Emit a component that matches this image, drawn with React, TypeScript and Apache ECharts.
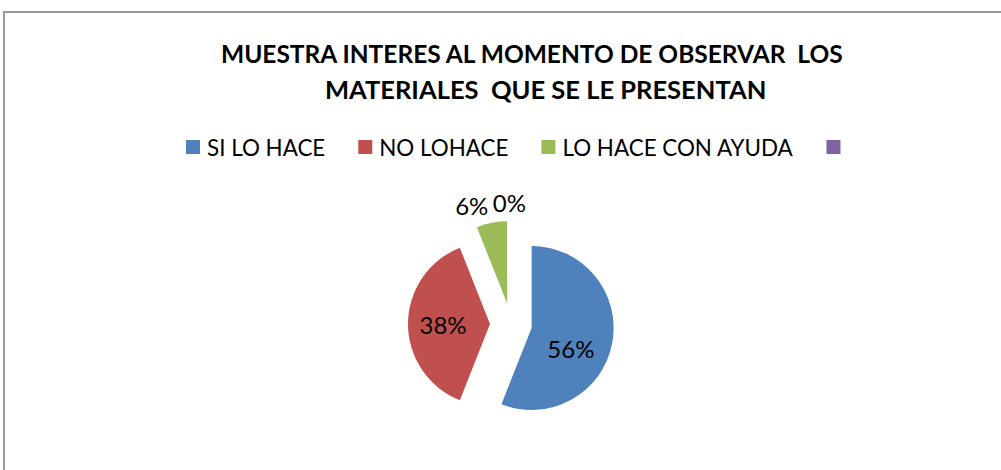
import React, { useEffect, useRef } from "react";
import * as echarts from "echarts";

const titleLines = ["MUESTRA INTERES AL MOMENTO DE OBSERVAR  LOS", "MATERIALES  QUE SE LE PRESENTAN"];
const categories = ["SI LO HACE", "NO LOHACE", "LO HACE CON AYUDA", " "];
const values = [56, 38, 6, 0];
const colors = ["#4F81BD", "#C0504D", "#9BBB59", "#8064A2"];
const labelPlacement = ["inside", "inside", "outside", "outside"];
const labelNudge: [number, number][] = [[-4, 12], [-3, 0], [5, 0], [20, -1]];

const FONT = "Lato, 'Open Sans', sans-serif";

export default function App() {
  const ref = useRef<HTMLDivElement>(null);
  useEffect(() => {
    if (!ref.current) return;
    const chart = echarts.init(ref.current, null, { renderer: "svg" });
    chart.setOption({
      animation: false,
      backgroundColor: "#ffffff",
      title: [
        {
          text: titleLines[0],
          left: 221,
          top: 41,
          padding: 0,
          textStyle: { fontFamily: FONT, fontSize: 24.5, fontWeight: "bold", color: "#000" },
        },
        {
          text: titleLines[1],
          left: 325,
          top: 76,
          padding: 0,
          textStyle: { fontFamily: FONT, fontSize: 25.5, fontWeight: "bold", color: "#000" },
        },
      ],
      legend: {
        left: 186,
        top: 136,
        padding: 0,
        icon: "rect",
        itemWidth: 14,
        itemHeight: 14,
        itemGap: 33,
        selectedMode: false,
        data: categories,
        textStyle: { fontFamily: FONT, fontSize: 22.4, color: "#000", padding: [0, 0, 0, 2] },
      },
      graphic: [
        {
          type: "rect",
          silent: true,
          shape: { x: 4, y: 12, width: 1100, height: 600 },
          style: { fill: "none", stroke: "#9a9a9a", lineWidth: 2 },
        },
      ],
      series: [
        {
          type: "pie",
          center: [511, 324],
          radius: 82,
          startAngle: 90,
          clockwise: true,
          selectedMode: "multiple",
          selectedOffset: 21,
          avoidLabelOverlap: false,
          silent: true,
          emphasis: { disabled: true },
          label: {
            formatter: "{c}%",
            fontFamily: FONT,
            fontSize: 24,
            color: "#000",
          },
          labelLine: { show: false, length: 18, length2: 0 },
          labelLayout: (p: any) => {
            const n = labelNudge[p.dataIndex] || [0, 0];
            return { dx: n[0], dy: n[1] };
          },
          data: categories.map((name, i) => ({
            name,
            value: values[i],
            selected: true,
            itemStyle: { color: colors[i] },
            label: { position: labelPlacement[i] },
          })),
        },
      ],
    });
    return () => chart.dispose();
  }, []);
  return <div ref={ref} style={{ position: "fixed", left: 0, top: 0, width: 1001, height: 470 }} />;
}
